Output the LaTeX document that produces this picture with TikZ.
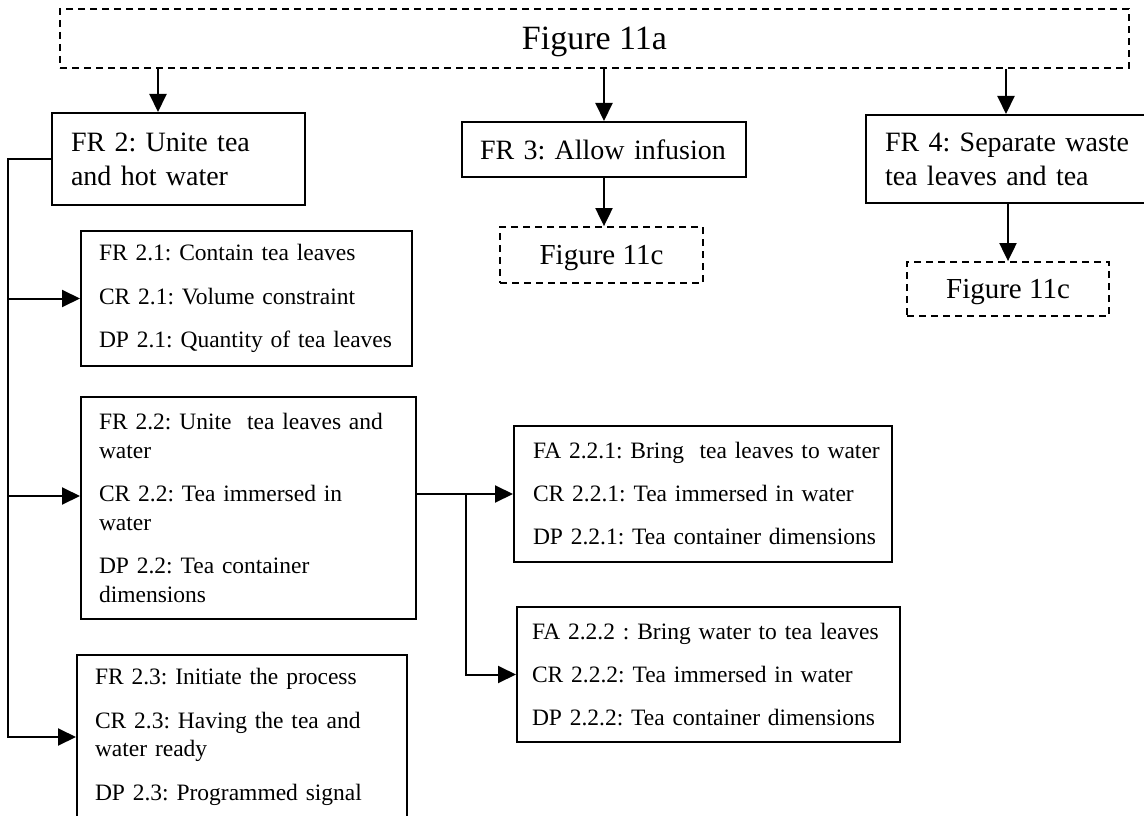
\documentclass[tikz,border=0pt]{standalone}
\usepackage{fontspec}
\setmainfont{Liberation Serif}
\usetikzlibrary{arrows.meta}
\begin{document}
\frenchspacing
\begin{tikzpicture}[x=1pt,y=-1pt,
  box/.style={draw, line width=2pt, rectangle, align=left, inner ysep=0pt},
  ref/.style={draw, line width=1.8pt, dash pattern=on 7pt off 5pt, inner sep=0pt, text depth=0pt},
  arr/.style={line width=2pt, -{Triangle[length=18pt,width=17pt]}},
  body/.style={font=\fontsize{23.5}{28.5}\selectfont},
  head/.style={font=\fontsize{28}{34}\selectfont},
]
\useasboundingbox (0,0) rectangle (1144,816);

% upper level
\node[ref, minimum width=1069pt, minimum height=59pt, font=\fontsize{34}{40}\selectfont]
  (f11a) at (594.5,38.5) {Figure 11a};

\node[box, head, minimum width=253pt, minimum height=92pt, text width=215pt, inner xsep=19pt]
  (fr2) at (178.5,159) {FR 2: Unite tea\\and hot water};
\node[box, head, minimum width=284pt, minimum height=55pt, text width=248pt, inner xsep=18pt]
  (fr3) at (604,149.5) {\mbox{FR 3: Allow infusion}};
\node[box, head, minimum width=280pt, minimum height=88pt, text width=242pt, inner xsep=19pt]
  (fr4) at (1006,159) {\mbox{FR 4: Separate waste}\\tea leaves and tea};

\node[ref, minimum width=203pt, minimum height=56pt, font=\fontsize{29}{34}\selectfont]
  (f11c1) at (601.5,255) {Figure 11c};
\node[ref, minimum width=202pt, minimum height=54pt, font=\fontsize{29}{34}\selectfont]
  (f11c2) at (1008,289) {Figure 11c};

% decomposition of FR 2
\node[box, body, minimum width=331pt, minimum height=135pt, text width=295pt, inner xsep=18pt]
  (fr21) at (246.5,298.5)
  {\mbox{FR 2.1: Contain tea leaves}\\[15pt]
   \mbox{CR 2.1: Volume constraint}\\[15pt]
   \mbox{DP 2.1: Quantity of tea leaves}};
\node[box, body, minimum width=335pt, minimum height=222pt, text width=299pt, inner xsep=18pt]
  (fr22) at (248.5,508)
  {\mbox{FR 2.2: Unite\ \ tea leaves and}\\water\\[15pt]
   \mbox{CR 2.2: Tea immersed in}\\water\\[15pt]
   \mbox{DP 2.2: Tea container}\\dimensions};
\node[box, body, minimum width=330pt, minimum height=164pt, text width=294pt, inner xsep=18pt]
  (fr23) at (242,737)
  {\mbox{FR 2.3: Initiate the process}\\[15pt]
   \mbox{CR 2.3: Having the tea and}\\water ready\\[15pt]
   \mbox{DP 2.3: Programmed signal}};

\node[box, body, minimum width=378pt, minimum height=136pt, text width=340pt, inner xsep=19pt]
  (fa1) at (703,494)
  {\mbox{FA 2.2.1: Bring\ \ tea leaves to water}\\[14.5pt]
   \mbox{CR 2.2.1: Tea immersed in water}\\[14.5pt]
   \mbox{DP 2.2.1: Tea container dimensions}};
\node[box, body, minimum width=383pt, minimum height=135pt, text width=353pt, inner xsep=15pt]
  (fa2) at (708.5,674.5)
  {\mbox{FA 2.2.2 : Bring water to tea leaves}\\[14.5pt]
   \mbox{CR 2.2.2: Tea immersed in water}\\[14.5pt]
   \mbox{DP 2.2.2: Tea container dimensions}};

% connectors
\draw[arr] (f11a.south -| 158,0) -- (fr2.north -| 158,0);
\draw[arr] (fr3.north |- f11a.south) -- (fr3.north);
\draw[arr] (fr4.north |- f11a.south) -- (fr4.north);
\draw[arr] (fr3.south) -- (fr3.south |- f11c1.north);
\draw[arr] (f11c2.north |- fr4.south) -- (f11c2.north);

\coordinate (trunk) at (8,159);
\draw[arr] (fr2.west) -| (trunk |- fr23.west) -- (fr23.west);
\draw[arr] (trunk |- fr21.west) -- (fr21.west);
\draw[arr] (trunk |- 0,496) -- (fr22.west |- 0,496);

\coordinate (split) at (466,494);
\draw[arr] (fr22.east |- fa1.west) -- (fa1.west);
\draw[arr] (split) |- (fa2.west);
\end{tikzpicture}
\end{document}
